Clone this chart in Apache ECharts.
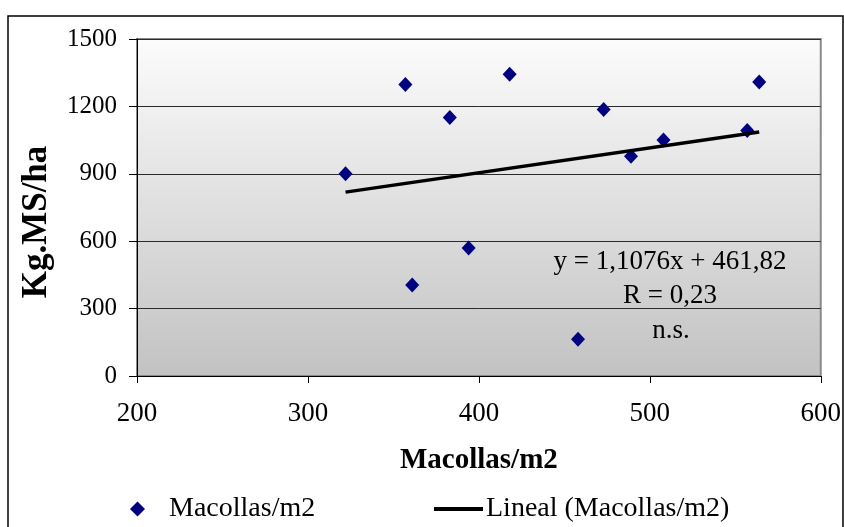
<!DOCTYPE html>
<html>
<head>
<meta charset="utf-8">
<script src="https://cdn.jsdelivr.net/npm/echarts@6/dist/echarts.min.js"></script>
<style>
  html, body { margin: 0; padding: 0; background: #fff; }
  #chart { width: 844px; height: 527px; }
</style>
</head>
<body>
<div id="chart"></div>
<script>
// Tillers per m2 against dry matter yield
const macollas = [322, 357, 361, 383, 394, 418, 458, 473, 489, 508, 557, 564];
const kgMS     = [900, 1298, 405, 1151, 570, 1343, 164, 1186, 978, 1051, 1093, 1309];

// Linear fit as stated in the annotation
const slope = 1.1076;
const intercept = 461.82;
const fitLabels = ['y = 1,1076x + 461,82', 'R = 0,23', 'n.s.'];

const xTicks = [200, 300, 400, 500, 600];
const yTicks = [0, 300, 600, 900, 1200, 1500];

const FONT = "'Liberation Serif', 'Times New Roman', serif";

const points = macollas.map((x, i) => [x, kgMS[i]]);
const xMin = Math.min(...macollas), xMax = Math.max(...macollas);
const fitLine = [[xMin, slope * xMin + intercept], [xMax, slope * xMax + intercept]];

const chart = echarts.init(document.getElementById('chart'));
chart.setOption({
  animation: false,
  backgroundColor: '#fff',
  grid: {
    left: 137, right: 22, top: 39, bottom: 151,
    show: true,
    borderColor: '#8a8a8a',
    borderWidth: 2,
    backgroundColor: new echarts.graphic.LinearGradient(0, 0, 0, 1, [
      { offset: 0, color: '#fcfcfc' },
      { offset: 1, color: '#c2c2c2' }
    ])
  },
  xAxis: {
    type: 'value',
    min: xTicks[0], max: xTicks[xTicks.length - 1], interval: 100,
    name: 'Macollas/m2',
    nameLocation: 'middle',
    nameGap: 70,
    nameTextStyle: { fontFamily: FONT, fontSize: 29, fontWeight: 'bold', color: '#000' },
    axisLine: { show: true, lineStyle: { color: '#000', width: 1 } },
    axisTick: { show: true, inside: false, length: 7, lineStyle: { color: '#000' } },
    axisLabel: { fontFamily: FONT, fontSize: 27, color: '#000', margin: 24, formatter: v => String(v) },
    splitLine: { show: false }
  },
  yAxis: {
    type: 'value',
    min: yTicks[0], max: yTicks[yTicks.length - 1], interval: 300,
    axisLine: { show: true, lineStyle: { color: '#000', width: 1 } },
    axisTick: { show: true, inside: false, length: 8, lineStyle: { color: '#000' } },
    axisLabel: { fontFamily: FONT, fontSize: 25, color: '#000', margin: 20, formatter: v => String(v) },
    splitLine: { show: true, lineStyle: { color: '#2a2a2a', width: 1 } }
  },
  legend: [
    {
      data: [{ name: 'Macollas/m2', icon: 'diamond' }],
      left: 125, top: 490,
      itemWidth: 15, itemHeight: 15,
      textStyle: { fontFamily: FONT, fontSize: 28, color: '#000', padding: [0, 0, 0, 19] }
    },
    {
      data: [{ name: 'Lineal (Macollas/m2)', icon: 'rect' }],
      left: 429, top: 490,
      itemWidth: 49, itemHeight: 4,
      textStyle: { fontFamily: FONT, fontSize: 28, color: '#000', padding: [0, 0, 0, -2] }
    }
  ],
  series: [
    {
      name: 'Macollas/m2',
      type: 'scatter',
      symbol: 'diamond',
      symbolSize: [14, 15],
      itemStyle: { color: '#000080', opacity: 1 },
      data: points,
      z: 3
    },
    {
      name: 'Lineal (Macollas/m2)',
      type: 'line',
      symbol: 'none',
      lineStyle: { color: '#000', width: 3.5 },
      itemStyle: { color: '#000' },
      data: fitLine,
      z: 4
    }
  ],
  graphic: [
    {
      type: 'rect', z: 100, silent: true,
      shape: { x: 8, y: 16, width: 835, height: 540 },
      style: { fill: 'transparent', stroke: '#000', lineWidth: 1.5 }
    },
    {
      // y axis title
      type: 'text', z: 100,
      x: 37, y: 222, rotation: Math.PI / 2,
      style: { text: 'Kg.MS/ha', x: 0, y: 0, textAlign: 'center', textVerticalAlign: 'middle',
               font: 'bold 35px ' + FONT, fill: '#000' }
    },
    {
      type: 'text', z: 100,
      style: { text: fitLabels[0], x: 670, y: 262, textAlign: 'center', textVerticalAlign: 'middle',
               font: '27px ' + FONT, fill: '#000' }
    },
    {
      type: 'text', z: 100,
      style: { text: fitLabels[1], x: 670, y: 296, textAlign: 'center', textVerticalAlign: 'middle',
               font: '27px ' + FONT, fill: '#000' }
    },
    {
      type: 'text', z: 100,
      style: { text: fitLabels[2], x: 671, y: 331, textAlign: 'center', textVerticalAlign: 'middle',
               font: '27px ' + FONT, fill: '#000' }
    }
  ]
});
</script>
</body>
</html>
